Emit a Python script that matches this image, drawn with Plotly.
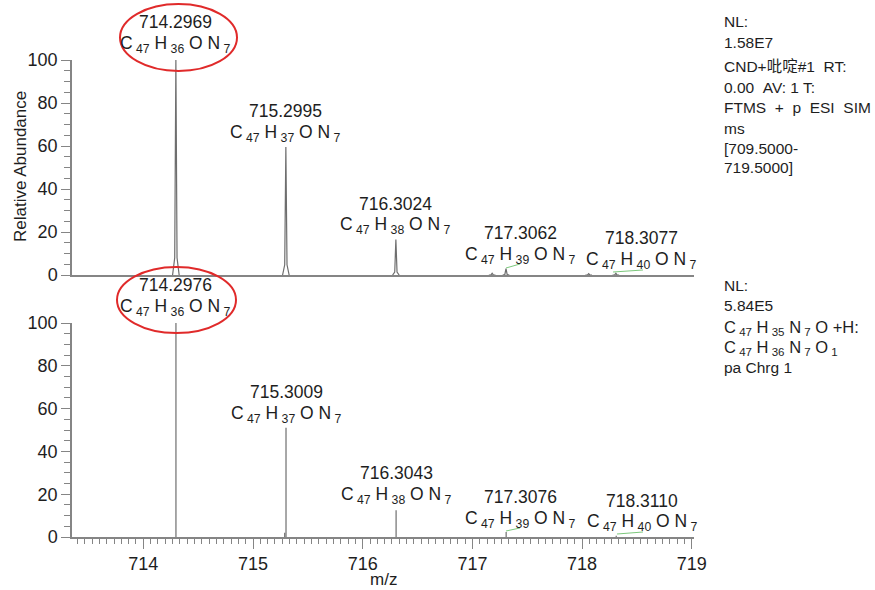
import plotly.graph_objects as go

# ---------------- data ----------------
# top panel (measured profile spectrum): peak centroids and relative abundance
top_mz = [714.2969, 715.2995, 716.3024, 717.1800, 717.3062, 718.0600, 718.3077]
top_int = [100.0, 59.5, 16.5, 0.8, 3.0, 0.6, 0.8]
# bottom panel (simulated isotope pattern, stick spectrum)
bot_mz = [714.2976, 715.2890, 715.3009, 716.3043, 717.3076, 718.3110]
bot_int = [100.0, 2.0, 51.0, 12.5, 2.3, 0.6]

# labels
top_label_mz = [714.2969, 715.2995, 716.3024, 717.3062, 718.3077]
top_label_num = ["714.2969", "715.2995", "716.3024", "717.3062", "718.3077"]
bot_label_mz = [714.2976, 715.3009, 716.3043, 717.3076, 718.3110]
bot_label_num = ["714.2976", "715.3009", "716.3043", "717.3076", "718.3110"]
label_h = ["36", "37", "38", "39", "40"]

x_ticks = [714, 715, 716, 717, 718, 719]
y_ticks = [0, 20, 40, 60, 80, 100]

NB = "\u00a0"


def sub(s):
    return "<sub>" + NB + s + "</sub>"


top_info = ["NL:", "1.58E7", "CND+吡啶#1" + NB + NB + "RT:", "0.00" + NB + NB + "AV: 1 T:",
            "FTMS" + NB + NB + "+" + NB + NB + "p" + NB + NB + "ESI" + NB + NB + "SIM",
            "ms", "[709.5000-", "719.5000]"]
bot_info = ["NL:", "5.84E5",
            "C" + sub("47") + " H" + sub("35") + " N" + sub("7") + " O +H:",
            "C" + sub("47") + " H" + sub("36") + " N" + sub("7") + " O" + sub("1"),
            "pa Chrg 1"]

# small green theoretical markers (x0, x1 in m/z)
green_top = [(717.306, 717.434), (718.282, 718.555)]
green_bot = [(717.306, 717.434), (718.318, 718.555)]

# ---------------- geometry helpers (pixel -> paper) ----------------
L, R, T, B = 72, 694, 60, 537
W, H = 875, 590
XR = [713.35, 719.02]


def px(p):
    return (p - L) / (R - L)


def py(p):
    return (B - p) / (B - T)


HALF = 0.030
tx, ty = [], []
for c, h in zip(top_mz, top_int):
    tx += [c - HALF, c - HALF * 0.35, c, c + HALF * 0.35, c + HALF, None]
    ty += [0, h * 0.08, h, h * 0.08, 0, None]

bx, by = [], []
for c, h in zip(bot_mz, bot_int):
    bx += [c, c, None]
    by += [0, h, None]

LINE = "#6e6e6e"
AX = "#858585"
TXT = "#1e1e1e"
FONT = "Liberation Sans, Arial, Noto Sans CJK SC, sans-serif"

fig = go.Figure()
fig.add_trace(go.Scatter(x=tx, y=ty, mode="lines", line=dict(color=LINE, width=1.2),
                         xaxis="x2", yaxis="y2", hoverinfo="skip", showlegend=False))
fig.add_trace(go.Scatter(x=bx, y=by, mode="lines", line=dict(color=LINE, width=1.2),
                         xaxis="x", yaxis="y", hoverinfo="skip", showlegend=False))

yax = dict(range=[0, 100], tickvals=y_ticks, ticks="outside", ticklen=9, tickwidth=1.3,
           tickcolor=AX, showline=True, linecolor=AX, linewidth=1.5, showgrid=False,
           zeroline=False, tickfont=dict(size=18, color=TXT, family=FONT),
           minor=dict(dtick=5, tick0=0, ticks="outside", ticklen=6, tickcolor=AX, tickwidth=1.2,
                      showgrid=False))

top_dom = [py(275), 1.0]
bot_dom = [0.0, py(323)]

fig.update_layout(
    width=W, height=H, margin=dict(l=L, r=W - R, t=T, b=H - B),
    paper_bgcolor="white", plot_bgcolor="white",
    font=dict(family=FONT, color=TXT),
    xaxis=dict(domain=[0, 1], range=XR, anchor="y", tickvals=x_ticks, ticks="outside",
               ticklen=10, tickwidth=1.3, tickcolor=AX, showline=True, linecolor=AX,
               linewidth=1.5, showgrid=False, zeroline=False,
               tickfont=dict(size=18, color=TXT, family=FONT),
               minor=dict(dtick=1 / 15, tick0=714, ticks="outside", ticklen=5, tickcolor=AX,
                          tickwidth=1.1, showgrid=False)),
    xaxis2=dict(domain=[0, 1], range=XR, anchor="y2",
                showline=True, linecolor=AX, linewidth=1.5, showticklabels=False, ticks="",
                showgrid=False, zeroline=False),
    yaxis=dict(domain=bot_dom, anchor="x", **yax),
    yaxis2=dict(domain=top_dom, anchor="x2", **yax),
    showlegend=False,
)

ann = []


def text(x, y, s, size=17.5, xref="paper", xanchor="center", xshift=0):
    ann.append(dict(x=x, y=py(y), xref=xref, yref="paper", text=s, showarrow=False,
                    xanchor=xanchor, yanchor="middle", xshift=xshift,
                    font=dict(size=size, color=TXT, family=FONT)))


def formula(hh):
    return "C" + sub("47") + " H" + sub(hh) + " O N" + sub("7")


top_num_y = [22, 111, 204, 233, 238]
top_form_y = [44, 133, 225, 255, 260]
bot_num_y = [285, 392, 473, 497, 501]
bot_form_y = [307, 414, 495, 519, 522]
shifts = [0, 0, 0, 14, 26]

for i in range(5):
    text(top_label_mz[i], top_num_y[i], top_label_num[i], xref="x", xshift=shifts[i])
    text(top_label_mz[i], top_form_y[i], formula(label_h[i]), xref="x", xshift=shifts[i])
    text(bot_label_mz[i], bot_num_y[i], bot_label_num[i], xref="x", xshift=shifts[i])
    text(bot_label_mz[i], bot_form_y[i], formula(label_h[i]), xref="x", xshift=shifts[i])

top_info_y = [22, 43, 66, 87, 108, 128, 148, 168]
for s, y in zip(top_info, top_info_y):
    text(px(722), y, s, size=15.5, xanchor="left")
bot_info_y = [285, 305, 328, 348, 367]
bot_sizes = [15.5, 15.5, 16.5, 16.5, 15.5]
for s, y, fs in zip(bot_info, bot_info_y, bot_sizes):
    text(px(722), y, s, size=fs, xanchor="left")

# axis titles
ann.append(dict(x=px(20), y=py(167), xref="paper", yref="paper", text="Relative Abundance",
                textangle=-90, showarrow=False, xanchor="center", yanchor="middle",
                font=dict(size=17, color=TXT, family=FONT)))
text(px(383), 579, "m/z", size=17)

fig.update_layout(annotations=ann)

shapes = []
# red ellipses highlighting monoisotopic peaks
for (x0, x1, y0, y1) in [(120, 237, 4, 71), (117, 236, 267, 333)]:
    shapes.append(dict(type="circle", xref="paper", yref="paper", x0=px(x0), x1=px(x1),
                       y0=py(y1), y1=py(y0), line=dict(color="#e02a2a", width=2)))
for (a, b), (ya, yb) in zip(green_top, [(268, 264), (272, 270)]):
    shapes.append(dict(type="line", xref="x", yref="paper", x0=a, x1=b, y0=py(ya), y1=py(yb),
                       line=dict(color="#7cc87c", width=1)))
for (a, b), (ya, yb) in zip(green_bot, [(531, 528), (534, 532)]):
    shapes.append(dict(type="line", xref="x", yref="paper", x0=a, x1=b, y0=py(ya), y1=py(yb),
                       line=dict(color="#7cc87c", width=1)))
fig.update_layout(shapes=shapes)

fig.write_html("out.html")
